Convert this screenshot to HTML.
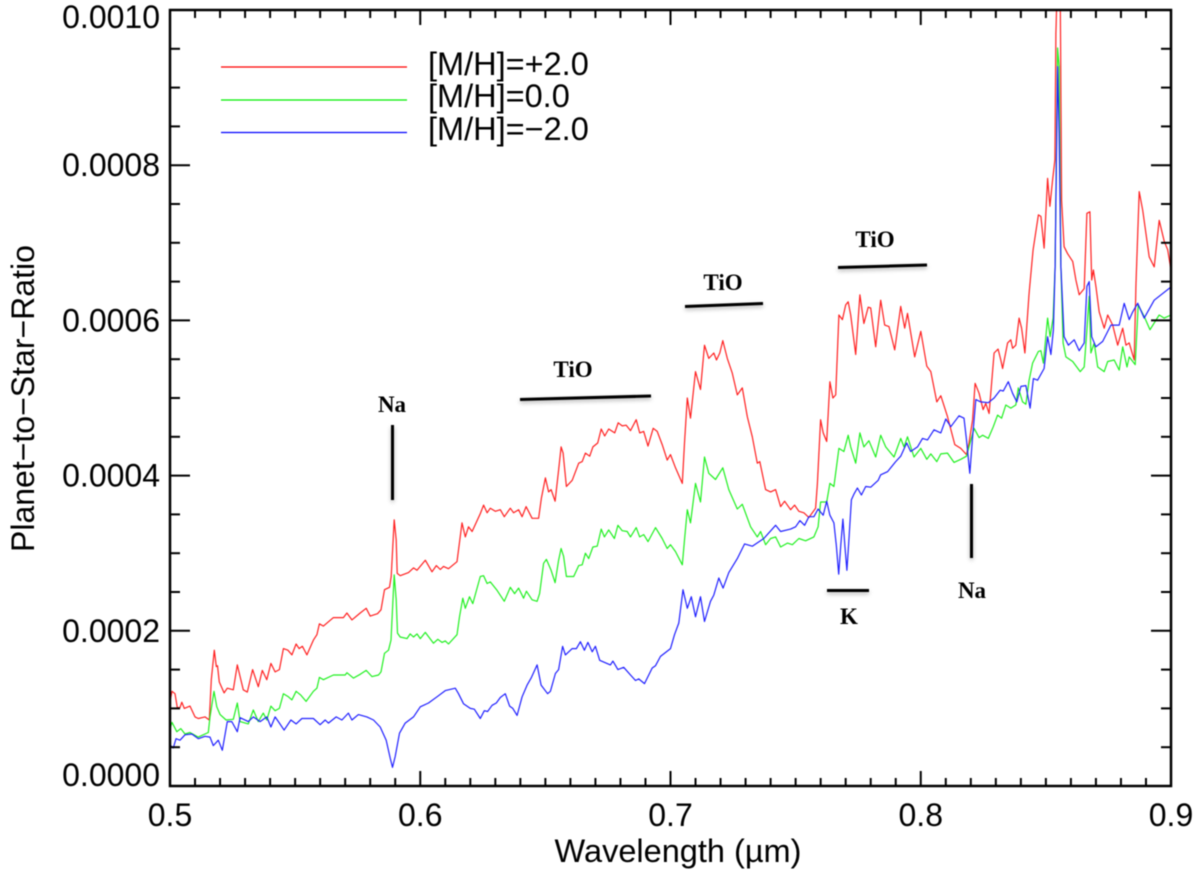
<!DOCTYPE html>
<html>
<head>
<meta charset="utf-8">
<title>Planet-to-Star Ratio</title>
<style>
html,body{margin:0;padding:0;background:#fff;}
svg{display:block;filter:blur(.4px);}
text{font-family:"Liberation Sans",sans-serif;fill:#000;}
.note{font-family:"Liberation Serif",serif;font-weight:bold;font-size:23px;text-anchor:middle;}
.tick-label{font-size:32px;}
.bar{stroke:#000;stroke-width:3;filter:drop-shadow(0 2px 2px rgba(0,0,0,.3));}
.series{fill:none;stroke-width:1.2;stroke-linejoin:round;}
</style>
</head>
<body>
<svg id="chart" xmlns="http://www.w3.org/2000/svg" width="1200" height="881" viewBox="0 0 1200 881">
  <defs><clipPath id="plot-clip"><rect x="170" y="10" width="1001" height="776"/></clipPath></defs>
  <rect width="1200" height="881" fill="#fff"/>
  <g id="series-layer" clip-path="url(#plot-clip)"></g>
  <g id="axis-layer"></g>
  <rect x="170" y="10" width="1001" height="776" fill="none" stroke="#000" stroke-width="2.5"/>

  <text x="678" y="862" font-size="32.500" text-anchor="middle">Wavelength (µm)</text>
  <text transform="translate(34,552) rotate(-90)" font-size="32">Planet−to−Star−Ratio</text>

  <g>
    <line x1="221" x2="407" y1="67" y2="67" stroke="#ff0000" stroke-width="1.2"/>
    <line x1="221" x2="407" y1="100" y2="100" stroke="#00ee00" stroke-width="1.2"/>
    <line x1="221" x2="407" y1="132.500" y2="132.500" stroke="#0000ff" stroke-width="1.2"/>
    <text x="428" y="75" font-size="32.500">[M/H]=+2.0</text>
    <text x="428" y="107" font-size="32.500">[M/H]=0.0</text>
    <text x="428" y="140" font-size="32.500">[M/H]=−2.0</text>
  </g>

  <g>
    <line class="bar" x1="392.500" x2="392.500" y1="425" y2="500"/>
    <text class="note" x="392" y="412">Na</text>
    <line class="bar" x1="971.500" x2="971.500" y1="484" y2="558"/>
    <text class="note" x="972" y="598">Na</text>
    <line class="bar" x1="827" x2="869" y1="590.500" y2="590.500"/>
    <text class="note" x="849" y="624">K</text>
    <line class="bar" x1="520" x2="651" y1="399.500" y2="396"/>
    <text class="note" x="573" y="377">TiO</text>
    <line class="bar" x1="685" x2="763" y1="306.500" y2="303.500"/>
    <text class="note" x="723" y="290">TiO</text>
    <line class="bar" x1="838" x2="927" y1="267.500" y2="265"/>
    <text class="note" x="875" y="247">TiO</text>
  </g>
</svg>
<script>
const xTickValues = [500, 600, 700, 800, 900];
const xTickLabels = ['0.5', '0.6', '0.7', '0.8', '0.9'];
const yTickValues = [0, 200, 400, 600, 800, 1000];
const yTickLabels = ['0.0000', '0.0002', '0.0004', '0.0006', '0.0008', '0.0010'];

// wavelength in nm, planet-to-star ratio in units of 1e-6
const redWavelength = [500,500.8,502,502.9,504,504.7,505.7,508,510,511.3,514,515.7,516.5,517.7,518.5,519,519.7,521.6,522.9,525.3,526.9,528,529.3,530.9,533,535.3,536.9,538.7,540.3,542,543.7,545.3,547.1,548.7,550.4,551.6,552.9,554.7,557.3,558.7,559.7,561.3,565.3,569.3,570.7,572.7,576,578.4,580,582.9,584.3,585.7,587.7,588.4,589.6,590.4,590.8,592,595.3,597.3,598.7,602,604.7,606.4,608,609.3,611.3,614.7,615.3,616.7,618,619.3,620.7,624,625.3,626.7,628,630,632,633.6,636,637.3,639.3,640.7,642.3,644.7,647.3,648.4,650,651.3,652.3,653.9,655.3,656.3,657.1,658.4,660.7,663.3,664.7,666,667.7,669,670.9,672.3,673.7,675.3,677.7,679.1,680.7,682.3,684,686.3,687.7,689.3,691,693.1,694.7,696.7,698.7,700,702,704.7,705.6,706.7,708,710,712,713.6,715.3,717.3,718.4,719.7,720.9,722.7,724.7,726.7,728.7,730.7,732.7,734.7,735.7,738,740,742,744,745.6,748,749.6,751.3,753.3,755.3,758,758.7,760,761,762.4,763.7,764.9,766,767.3,768.7,770,771,772,774,775.7,777.3,779,780,782,784,785.6,787.3,789.6,792,793.6,794.7,797.6,800,802.4,804,806.4,808,810.7,813.6,816,818.3,819.3,820.7,821.7,823.3,824.9,826,827.3,829.3,830.9,832,832.7,834.7,836,836.7,838,839.3,840.3,841.6,843.3,844.9,847,848,849.3,850.7,851.6,852.7,853.6,854,854.7,855.7,856.3,857.3,858.7,860.7,862,863.3,865.3,866.4,867.6,868.3,869,870,871.3,873.3,874.7,876.7,878.7,880.7,882,883.3,885.3,886,887.3,888.7,891.3,893.3,895.3,897.3,898.7,900];
const redRatio = [109,122,119,101,101,108,100,103,89,87,89,85,137,175,154,155,134,120,126,124,156,141,124,121,150,128,149,137,158,147,150,177,175,169,183,177,180,169,188,195,209,206,217,217,223,214,223,229,219,222,227,253,256,270,343,317,274,271,275,281,278,291,276,284,279,283,280,289,304,339,321,334,328,351,362,352,358,354,356,347,358,352,356,347,360,345,345,371,397,379,382,367,407,437,429,386,394,416,418,429,425,437,442,460,451,460,455,468,464,465,458,472,455,457,438,461,457,440,420,427,410,390,442,500,474,534,511,568,551,558,549,558,574,551,532,504,513,476,450,416,418,382,379,382,360,367,356,362,354,352,346,358,390,472,455,444,521,500,504,607,601,620,624,607,556,633,596,617,616,566,626,594,592,562,618,590,609,553,586,541,534,495,503,476,440,435,427,442,472,519,506,485,493,480,558,563,549,538,571,575,564,568,603,590,558,635,691,736,734,693,783,747,781,807,970,1050,1050,755,695,686,676,652,633,641,738,740,652,665,644,611,590,607,594,568,590,568,571,549,648,766,742,682,669,729,702,691,665];

const greenWavelength = [500,500.8,502.7,504.3,506,508,511.3,515.3,516,517.6,518.7,520,522.4,525.3,526.9,528,531.3,533.3,535.3,537.3,538.7,540.3,542,543.7,545.3,547.3,548.7,550.4,552.3,554.4,557.3,558.7,559.7,561.3,565.3,570,570.7,573.3,576,578.4,580.7,583.3,584.3,585.7,587.3,588.3,589.6,590.4,590.9,592,594.7,596,597.3,598.7,600,602,605.3,607,608.7,610,611.3,614.7,615.7,617,618,619.7,621,624,625.3,626.7,628,630.7,633.6,636,637.7,639.3,641.3,642.4,644.7,646.7,647.7,649.3,650.4,652.3,653.9,655.3,656.3,657.3,658.4,661.3,663.3,664.7,666,667.3,669,670.7,672.3,673.6,675.3,677.6,679,680.7,682.7,684,686.3,687.7,689.3,691,694,696.7,698.7,700,702,704.7,705.6,706.7,708,710,712,713.6,715.3,718,720.9,723.3,726.7,728.7,732,734.7,736,738,740,742,744,746.7,748.7,751.3,754,757.3,759,760,762.4,763.7,765.3,767.3,769.3,771,772,774,775.7,777.3,779.3,782,784,786,789.3,792,793.3,794.7,797.3,800,802.4,804,806.4,808,810.7,813.3,816,818.3,819.3,821.3,823.3,824.7,827,829,830.7,832.3,834,836,838,839,840.7,842,843.3,844.7,847,848,849,850.7,851.7,852.9,853.7,854.7,855.3,856,856.9,858,860.7,863.7,865.3,866.4,867.3,868,869.3,870.7,873.3,874.7,877.3,879.3,880.7,882.4,883.3,885.7,886.9,889.3,891.6,895.3,897.3,900];
const greenRatio = [74,82,70,74,67,69,63,69,89,122,102,92,85,86,107,83,80,98,83,94,85,103,97,100,119,115,111,122,117,109,122,126,140,137,143,143,146,139,144,149,141,143,147,171,175,188,272,240,197,192,190,196,192,196,190,198,184,189,185,187,183,195,218,242,229,244,235,270,271,261,263,252,238,256,248,255,242,251,240,238,248,287,292,278,262,291,306,296,270,270,284,285,300,293,308,309,331,321,330,319,336,329,328,321,333,321,324,315,333,319,306,311,302,285,317,356,339,390,366,424,403,395,410,382,357,363,334,321,328,311,319,321,308,313,311,319,316,321,334,366,366,390,386,435,431,452,437,416,455,437,445,424,452,437,424,448,437,450,424,435,421,428,418,428,429,417,421,425,437,461,449,452,448,463,478,474,491,487,491,513,495,492,523,545,560,561,545,603,579,603,669,951,927,669,571,553,547,534,540,588,631,558,571,540,534,547,549,536,566,540,553,543,620,605,588,607,603,607];

const blueWavelength = [500,501.3,502.4,504,506,508.7,511.3,514,516,517.3,519.3,520.9,522.9,524.7,526.9,528,531.3,533.3,536,538.7,540.3,542,543.3,545.6,548.3,550.4,552.7,557.3,560,562,563.3,566.4,568.7,571.3,572.7,575.3,578.7,581.3,584,586.4,588,588.9,590,591.7,594,597.3,600,603.3,606.7,610,614,615.3,617.3,620,621.6,624,625.6,626.9,628.7,630.4,632,634,635.7,637,638.7,640.7,642.7,644.3,646.7,648.3,650.9,652,654,655.3,656.9,658,660.7,662.4,664,665.6,667,668.7,670,671.7,676,677,679,681.3,684,686,687.3,689.6,692.7,694,696,700,701.6,703.3,705,706.7,708.3,710,712,713.6,716,717.3,719.3,721,723.3,726.7,729.6,732.7,737.3,742,744,748,750,751.7,753.6,755.3,757.3,759,761,762.4,763.7,765.3,766.3,767.2,768,768.9,769.7,770.5,771.3,772.3,773.3,774.7,776.3,778,780,783,784,786.7,790,792,794.4,796,798.7,800.7,802.7,805.3,808,810,812,815.3,817.3,818.3,819.6,820.7,822,824,827,829.3,831.7,833,835,836.7,838.4,840,842,843.7,845,846.7,849.3,850.7,852,853,853.7,854.7,855.3,856,857.3,859,861.3,863.3,865.3,866.4,867.3,868.3,870,872.7,876,879.3,881.3,883.3,884.7,886.7,889.3,893.3,900];
const blueRatio = [53,49,61,59,66,67,61,64,63,52,59,46,83,83,70,88,83,89,83,89,76,89,83,72,85,80,87,87,79,85,81,89,85,94,85,92,89,85,76,59,36,24,38,68,81,89,102,107,115,123,126,119,106,100,99,87,97,96,104,107,114,119,103,100,91,115,130,139,156,130,119,122,145,150,180,169,177,177,186,175,185,173,180,162,156,161,150,153,143,136,138,132,152,155,167,177,195,210,253,229,244,218,244,212,238,246,268,255,275,293,312,309,319,336,328,331,334,342,336,347,347,357,349,367,349,339,309,273,309,344,309,278,317,369,376,384,375,386,385,394,401,405,418,425,442,431,437,448,446,459,455,473,463,477,474,446,403,450,498,495,494,500,510,509,521,506,495,515,516,487,525,523,538,579,556,588,669,927,841,669,579,568,575,561,571,644,650,579,566,573,594,594,622,601,611,622,603,626,643];

const seriesNames = ['series-metallicity-plus-2', 'series-metallicity-zero', 'series-metallicity-minus-2'];
const seriesColors = ['#ff2020', '#20f020', '#2020ff'];

const svgNS = 'http://www.w3.org/2000/svg';
const plotLeft = 170, plotRight = 1171, plotTop = 10, plotBottom = 786;
const xMin = 500, xMax = 900, yMin = 0, yMax = 1000;

function xScale(v) { return plotLeft + (v - xMin) / (xMax - xMin) * (plotRight - plotLeft); }
function yScale(v) { return plotBottom - (v - yMin) / (yMax - yMin) * (plotBottom - plotTop); }

const axisLayer = document.getElementById('axis-layer');
const seriesLayer = document.getElementById('series-layer');

function addTick(x1, y1, x2, y2, width) {
  const t = document.createElementNS(svgNS, 'line');
  
  
  t.setAttribute('x1', x1);
  t.setAttribute('y1', y1);
  t.setAttribute('x2', x2);
  t.setAttribute('y2', y2);
  t.setAttribute('stroke', '#000');
  t.setAttribute('stroke-width', width);
  axisLayer.appendChild(t);
}

function addLabel(text, x, y, anchor) {
  const t = document.createElementNS(svgNS, 'text');
  
  
  t.setAttribute('class', 'tick-label');
  t.setAttribute('x', x);
  t.setAttribute('y', y);
  t.setAttribute('text-anchor', anchor);
  t.textContent = text;
  axisLayer.appendChild(t);
}

const xMinorStep = 10, yMinorStep = 50;
for (let v = xMin + xMinorStep; v < xMax; v += xMinorStep) {
  const major = xTickValues.indexOf(v) >= 0;
  const len = major ? 15 : 8;
  const x = xScale(v);
  addTick(x, plotBottom, x, plotBottom - len, 2);
  addTick(x, plotTop, x, plotTop + len, 2);
}
for (let v = yMin + yMinorStep; v < yMax; v += yMinorStep) {
  const major = yTickValues.indexOf(v) >= 0;
  const len = major ? 20 : 10;
  const y = yScale(v);
  addTick(plotLeft, y, plotLeft + len, y, 2);
  addTick(plotRight, y, plotRight - len, y, 2);
}
xTickValues.forEach(function (v, i) {
  addLabel(xTickLabels[i], xScale(v), 826, 'middle');
});
yTickValues.forEach(function (v, i) {
  const base = Math.min(plotBottom, Math.max(28, yScale(v) + 11));
  addLabel(yTickLabels[i], 160, base, 'end');
});

function drawSeries(wave, ratio, index) {
  const pts = wave.map(function (w, i) {
    return xScale(w).toFixed(1) + ',' + yScale(ratio[i]).toFixed(1);
  }).join(' ');
  const line = document.createElementNS(svgNS, 'polyline');
  
  
  line.setAttribute('class', 'series');
  line.setAttribute('stroke', seriesColors[index]);
  line.setAttribute('points', pts);
  seriesLayer.appendChild(line);
}
drawSeries(redWavelength, redRatio, 0);
drawSeries(greenWavelength, greenRatio, 1);
drawSeries(blueWavelength, blueRatio, 2);
</script>
</body>
</html>
